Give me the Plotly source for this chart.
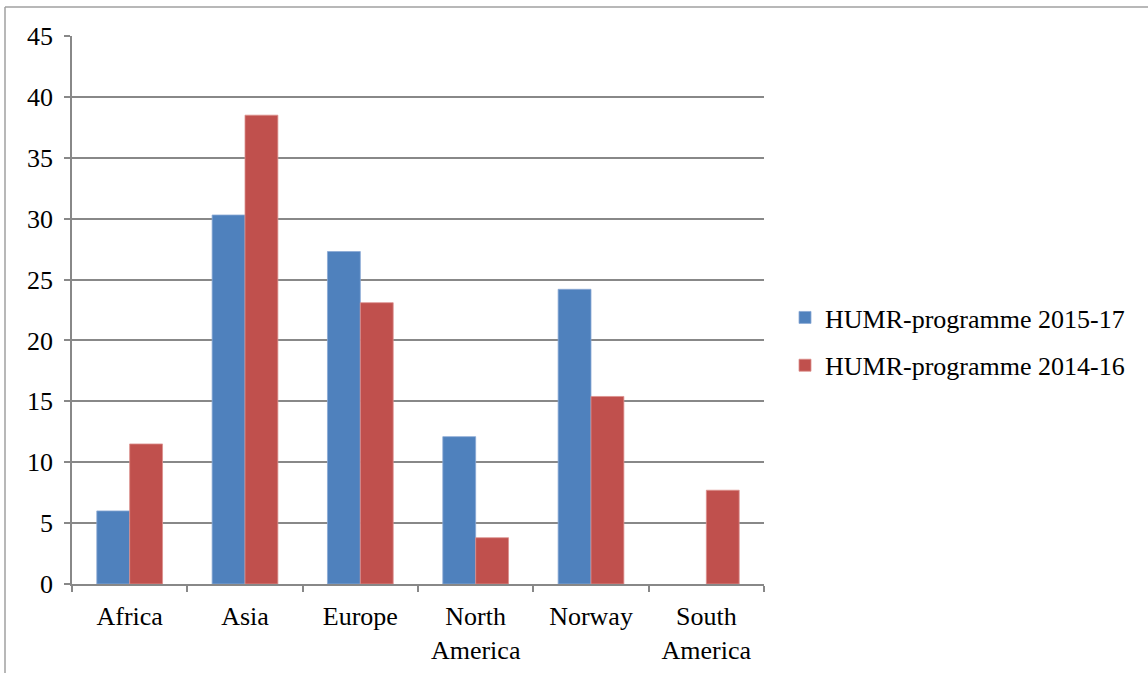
import plotly.graph_objects as go

categories = ["Africa", "Asia", "Europe", "North<br>America", "Norway", "South<br>America"]
series_2015_17 = [6.0, 30.3, 27.3, 12.1, 24.2, None]
series_2014_16 = [11.5, 38.5, 23.1, 3.8, 15.4, 7.7]
y_ticks = [0, 5, 10, 15, 20, 25, 30, 35, 40, 45]

BLUE = "#4F81BD"
RED = "#C0504D"
GRID = "#888888"
FONT = "'Liberation Serif', 'DejaVu Serif', serif"

W, H = 1148, 673
L, R, T, B = 72, 764, 35.5, 584.5

fig = go.Figure()
fig.add_trace(go.Bar(x=categories, y=series_2015_17, name="HUMR-programme 2015-17",
                     marker=dict(color=BLUE, line=dict(color="#8aa8d4", width=0.8)),
                     legendgroup="a"))
fig.add_trace(go.Bar(x=categories, y=series_2014_16, name="HUMR-programme 2014-16",
                     marker=dict(color=RED, line=dict(color="#dc8f8d", width=0.8)),
                     legendgroup="b"))

def px_x(p):
    return (p - L) / (R - L)

def px_y(p):
    return (B - p) / (B - T)

fig.update_layout(
    width=W, height=H,
    margin=dict(l=L, r=W - R, t=T, b=H - B, pad=0, autoexpand=False),
    paper_bgcolor="white", plot_bgcolor="white",
    font=dict(family=FONT, size=26, color="black"),
    barmode="group", bargap=0.43, bargroupgap=0,
    showlegend=True,
    legend=dict(x=px_x(785), y=px_y(294), xanchor="left", yanchor="top",
                font=dict(family=FONT, size=26, color="black"),
                tracegroupgap=11, traceorder="grouped",
                bgcolor="rgba(0,0,0,0)", itemclick=False),
    xaxis=dict(showline=True, linecolor=GRID, linewidth=1.5,
               ticks="outside", tickson="boundaries", ticklen=6, tickcolor=GRID, tickwidth=1.5,
               showgrid=False, tickfont=dict(family=FONT, size=26, color="black"),
               ticklabelstandoff=8, automargin=False, fixedrange=True),
    yaxis=dict(range=[0, 45], tickvals=y_ticks, showline=True, linecolor=GRID, linewidth=1.5,
               ticks="outside", ticklen=6, tickcolor=GRID, tickwidth=1.5,
               showgrid=True, gridcolor=GRID, gridwidth=1.5, zeroline=False,
               tickfont=dict(family=FONT, size=26, color="black"), ticklabelstandoff=6,
               automargin=False, fixedrange=True),
    shapes=[
        dict(type="line", xref="paper", yref="paper", x0=px_x(5), x1=px_x(1150),
             y0=px_y(6.5), y1=px_y(6.5), line=dict(color="#a0a0a0", width=1.5)),
        dict(type="line", xref="paper", yref="paper", x0=px_x(5), x1=px_x(5),
             y0=px_y(6.5), y1=px_y(675), line=dict(color="#a0a0a0", width=1.5)),
    ],
)

fig.write_html("out.html")
